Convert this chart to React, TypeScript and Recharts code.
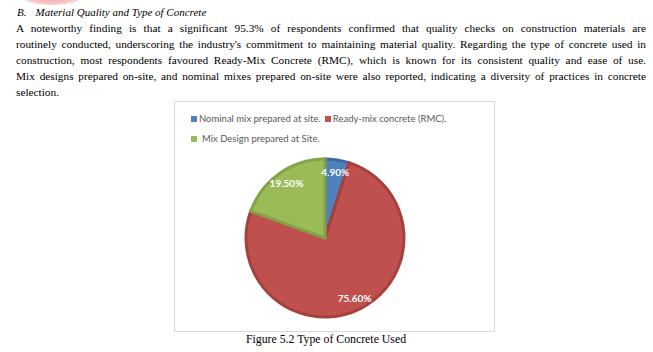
import React from 'react'
import { PieChart, Pie, Cell } from 'recharts'

// Share of respondents by type of concrete used (Figure 5.2)
const CATEGORIES = [
  'Nominal mix prepared at site.',
  'Ready-mix concrete (RMC).',
  'Mix Design prepared at Site.',
]
const SHARES = [4.9, 75.6, 19.5]
const FILLS = ['#4F81BD', '#C0504D', '#9BBB59']
const EDGES = ['#3C6A9E', '#A6403D', '#84A246']

const DATA = CATEGORIES.map((name, i) => ({ name, value: SHARES[i] }))

const HEADING = 'Material Quality and Type of Concrete'
const PARA_LINES = [
  'A noteworthy finding is that a significant 95.3% of respondents confirmed that quality checks on construction materials are',
  "routinely conducted, underscoring the industry's commitment to maintaining material quality. Regarding the type of concrete used in",
  'construction, most respondents favoured Ready-Mix Concrete (RMC), which is known for its consistent quality and ease of use.',
  'Mix designs prepared on-site, and nominal mixes prepared on-site were also reported, indicating a diversity of practices in concrete',
  'selection.',
]
const CAPTION = 'Figure 5.2 Type of Concrete Used'

const RAD = Math.PI / 180

function sliceLabel(props: any) {
  const { cx, cy, midAngle, value } = props
  const r = 67
  const x = cx + r * Math.cos(-midAngle * RAD)
  const y = cy + r * Math.sin(-midAngle * RAD)
  return (
    <text
      x={x}
      y={y}
      fill="#fff"
      fontSize={10}
      fontWeight={700}
      fontFamily="Lato, 'Open Sans', sans-serif"
      textAnchor="middle"
      dominantBaseline="central"
    >
      {value.toFixed(2)}%
    </text>
  )
}

function LegendItem({ i, gap }: { i: number; gap: number }) {
  return (
    <span style={{ display: 'inline-flex', alignItems: 'center', marginRight: 4 }}>
      <span
        style={{
          width: 6,
          height: 6,
          background: FILLS[i],
          display: 'inline-block',
          marginRight: gap,
        }}
      />
      {CATEGORIES[i]}
    </span>
  )
}

export default function App() {
  const serif = "'Liberation Serif', 'Times New Roman', serif"
  return (
    <div
      style={{
        position: 'fixed',
        left: 0,
        top: 0,
        width: 653,
        height: 352,
        background: '#fff',
        fontFamily: serif,
        color: '#000',
        overflow: 'hidden',
      }}
    >
      {/* cropped page decoration at the top edge */}
      <div
        style={{
          position: 'absolute',
          left: 22,
          top: -12,
          width: 60,
          height: 17,
          borderRadius: '50%',
          background: 'radial-gradient(ellipse at 50% 30%, #f08a8a 0%, #f7c4c4 60%, #fff 100%)',
        }}
      />
      <div style={{ position: 'absolute', left: 17, top: 6, fontSize: 11, fontStyle: 'italic' }}>
        <span style={{ marginRight: 9 }}>B.</span>
        {HEADING}
      </div>
      <div style={{ position: 'absolute', left: 16, top: 21, width: 630, fontSize: 11.3, lineHeight: '15.9px' }}>
        {PARA_LINES.map((line, i) => (
          <div
            key={i}
            style={{
              textAlign: i < PARA_LINES.length - 1 ? 'justify' : 'left',
              textAlignLast: i < PARA_LINES.length - 1 ? 'justify' : 'left',
              whiteSpace: 'nowrap',
            }}
          >
            {line}
          </div>
        ))}
      </div>
      <div
        style={{
          position: 'absolute',
          left: 174,
          top: 101,
          width: 319,
          height: 229,
          border: '1px solid #d9d9d9',
        }}
      >
        <PieChart width={319} height={229} margin={{ top: 0, right: 0, bottom: 0, left: 0 }}>
          <Pie
            data={DATA}
            dataKey="value"
            nameKey="name"
            cx={150}
            cy={136}
            outerRadius={79}
            startAngle={90}
            endAngle={-270}
            label={sliceLabel}
            labelLine={false}
            isAnimationActive={false}
          >
            {DATA.map((d, i) => (
              <Cell key={d.name} fill={FILLS[i]} stroke={EDGES[i]} strokeWidth={3} />
            ))}
          </Pie>
        </PieChart>
        <div
          style={{
            position: 'absolute',
            left: 16,
            top: 7,
            fontFamily: "Lato, 'Open Sans', sans-serif",
            fontSize: 9.5,
            color: '#595959',
            lineHeight: '20px',
            whiteSpace: 'nowrap',
          }}
        >
          <div>
            <LegendItem i={0} gap={2} />
            <LegendItem i={1} gap={2} />
          </div>
          <div>
            <LegendItem i={2} gap={5} />
          </div>
        </div>
      </div>
      <div
        style={{
          position: 'absolute',
          left: 166,
          width: 320,
          top: 332,
          textAlign: 'center',
          fontSize: 11.8,
        }}
      >
        {CAPTION}
      </div>
    </div>
  )
}
